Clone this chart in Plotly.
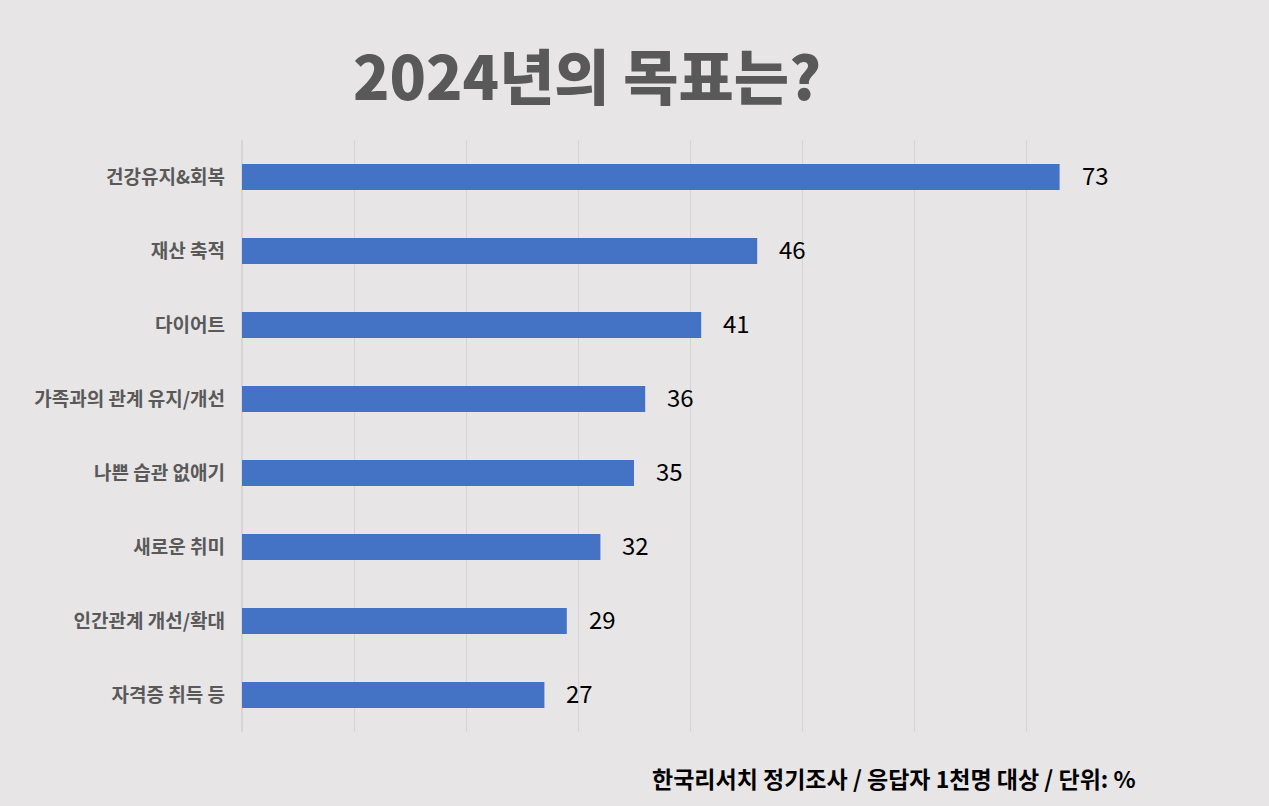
import plotly.graph_objects as go

# survey categories, top to bottom as shown
goals = ["건강유지&회복", "재산 축적", "다이어트", "가족과의 관계 유지/개선",
         "나쁜 습관 없애기", "새로운 취미", "인간관계 개선/확대", "자격증 취득 등"]
percent = [73, 46, 41, 36, 35, 32, 29, 27]

bg = "#e7e5e6"
font_kr = "Noto Sans CJK KR"

fig = go.Figure()
fig.add_trace(go.Bar(
    x=percent, y=goals, orientation="h",
    marker=dict(color="#4472c4", line=dict(width=0)),
    width=0.35,
))

# value labels a little way off the bar ends
notes = []
for g, v in zip(goals, percent):
    notes.append(dict(x=v, y=g, text=str(v), xanchor="left", yanchor="middle",
                      xshift=20, yshift=3, showarrow=False,
                      font=dict(family=font_kr, size=24, color="#000000")))
notes.append(dict(
    text="<b>한국리서치 정기조사 / 응답자 1천명 대상 / 단위: %</b>",
    xref="paper", yref="paper", x=1.0, y=-0.078, xanchor="right", yanchor="middle",
    showarrow=False, font=dict(family=font_kr, size=23, color="#000000")))

fig.update_layout(
    width=1269, height=806,
    paper_bgcolor=bg, plot_bgcolor=bg,
    margin=dict(l=242, r=131, t=140, b=74),
    showlegend=False,
    title=dict(text="2024년의 목표는?", x=0.4626, xanchor="center",
               y=0.902, yanchor="middle",
               font=dict(family=font_kr, size=60, color="#595959", weight=900)),
    xaxis=dict(range=[0, 80], dtick=10, showticklabels=False,
               showgrid=True, gridcolor="#d6d4d5", gridwidth=1,
               zeroline=True, zerolinecolor="#d6d4d5", showline=False),
    yaxis=dict(autorange="reversed", showgrid=False, ticks="",
               ticklabelstandoff=16,
               tickfont=dict(family=font_kr, size=19, color="#595959", weight="bold")),
    annotations=notes,
)

fig.write_html("out.html", config={"displayModeBar": False},
               post_script="document.body.style.margin='0';"
               "document.body.style.background='#e7e5e6';")
